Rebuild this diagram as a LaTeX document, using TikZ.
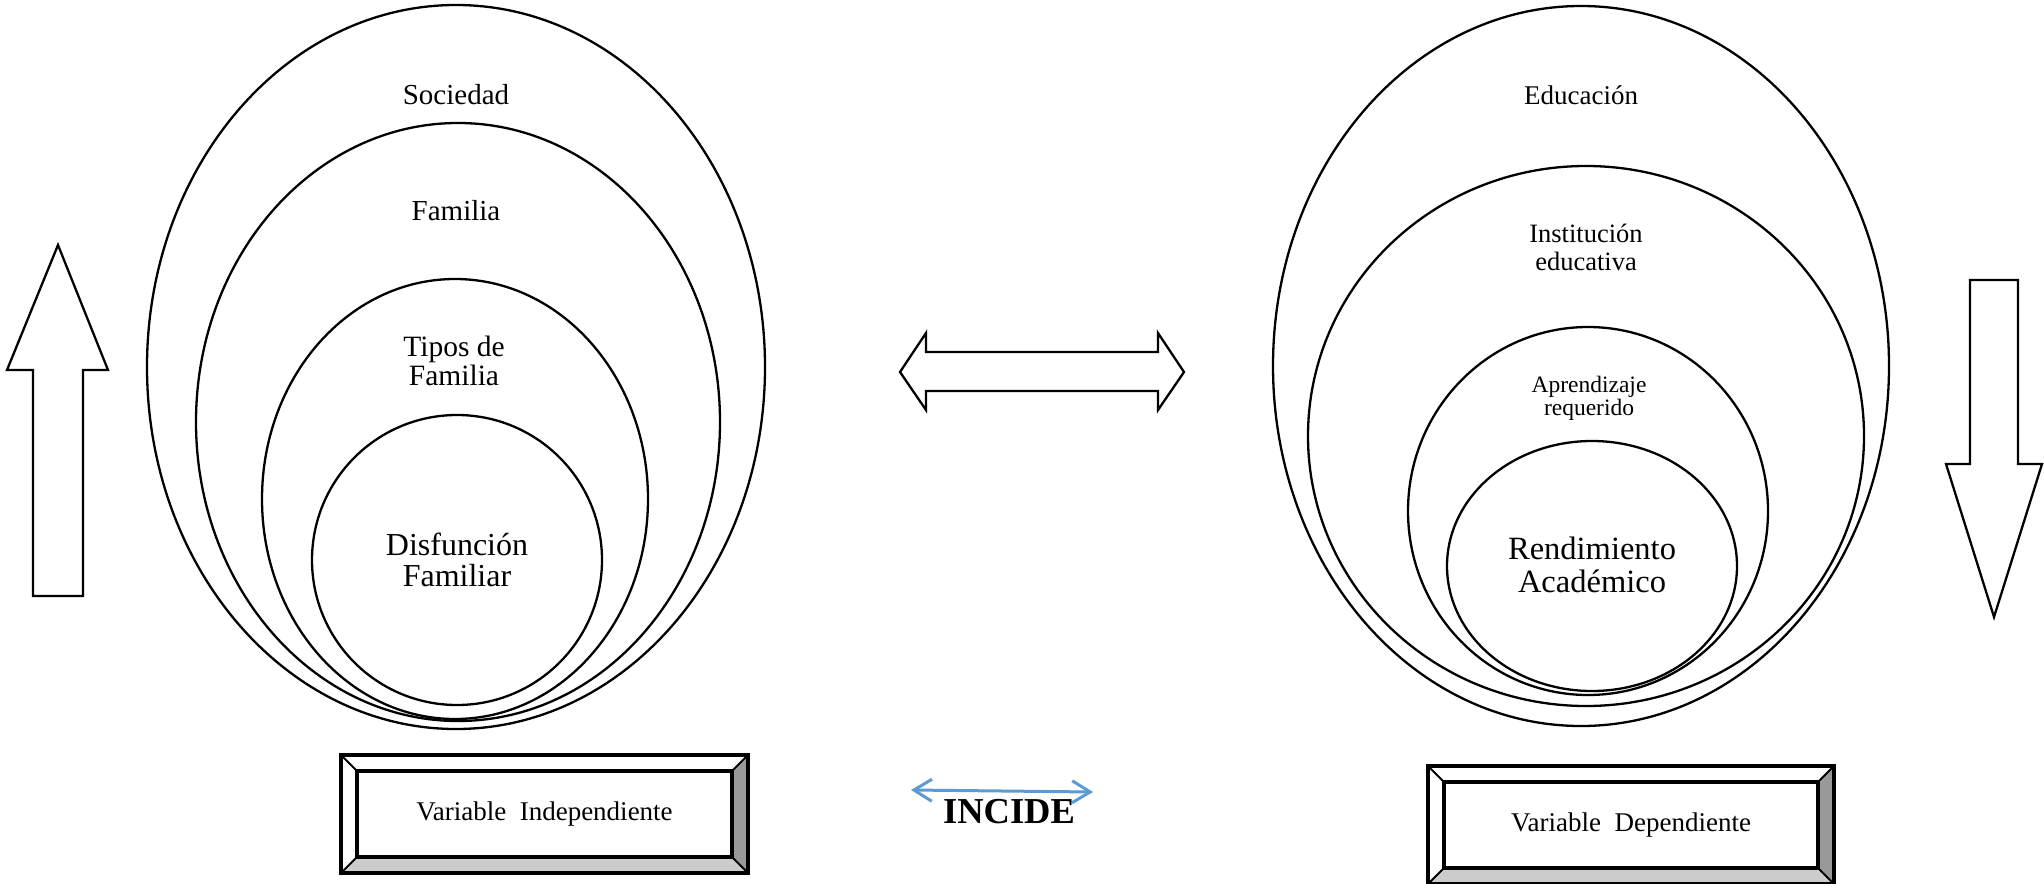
\documentclass[tikz,border=0pt]{standalone}
\usepackage{fontspec}
\setmainfont{Liberation Serif}
\usetikzlibrary{arrows.meta}
\definecolor{incblue}{HTML}{5B9BD5}
\begin{document}
\begin{tikzpicture}[x=1pt,y=-1pt,line width=2.3pt,line join=miter,
  lbl/.style={align=center,inner sep=0pt,font=\fontsize{29}{29}\selectfont},
  big/.style={align=center,inner sep=0pt,font=\fontsize{32}{32}\selectfont},
  varbox/.style={inner sep=0pt,outer sep=0pt,minimum width=375pt,minimum height=86pt,font=\fontsize{27}{28}\selectfont},
  frame/.style={line width=4pt},
  bevel/.style={line width=2pt}]
\useasboundingbox (0,0) rectangle (2044,883);
% left: independent variable
\draw (456,367) ellipse [x radius=309pt, y radius=362pt];
\draw (458,422) ellipse [x radius=262pt, y radius=299pt];
\draw (455,499) ellipse [x radius=193pt, y radius=220pt];
\draw (457,560) circle [radius=145pt];
\node[lbl,anchor=base] (soc) at (456,104) {Sociedad};
\node[lbl,anchor=base] (fam) at (456,220) {Familia};
\node[lbl,font=\fontsize{29.5}{29}\selectfont] (tip) at (454,361) {Tipos de\\Familia};
\node[big,font=\fontsize{32}{31}\selectfont] (dis) at (457,560) {Disfunción\\Familiar};
% right: dependent variable
\draw (1581,366) ellipse [x radius=308pt, y radius=360pt];
\draw (1586,436) ellipse [x radius=278pt, y radius=270pt];
\draw (1588,511) ellipse [x radius=180pt, y radius=184pt];
\draw (1592,566) ellipse [x radius=145pt, y radius=125pt];
\node[lbl,anchor=base,font=\fontsize{27}{28}\selectfont] (edu) at (1581,104) {Educación};
\node[lbl,font=\fontsize{26.5}{28}\selectfont] (ins) at (1586,247) {Institución\\educativa};
\node[lbl,font=\fontsize{23.5}{23.3}\selectfont] (apr) at (1589,398) {Aprendizaje\\requerido};
\node[big,font=\fontsize{32.5}{33}\selectfont] (ren) at (1592,565) {Rendimiento\\Académico};
% block arrows
\draw (58,245) -- (108,370) -- (83,370) -- (83,596) -- (33,596) -- (33,370) -- (7,370) -- cycle;
\draw (1970,280) -- (2018,280) -- (2018,464) -- (2042,464) -- (1994,617) -- (1946,464) -- (1970,464) -- cycle;
\draw (900,372) -- (926,333) -- (926,352) -- (1158,352) -- (1158,333) -- (1184,372)
  -- (1158,410) -- (1158,391) -- (926,391) -- (926,410) -- cycle;
% variable boxes
\node[varbox] (vi) at (544.5,814) {Variable~~Independiente};
\node[varbox,minimum width=374pt] (vd) at (1631,825) {Variable~~Dependiente};
\foreach \b in {vi,vd}{
  \fill[black!40] (\b.north east) -- ([shift={(16,-16)}]\b.north east) -- ([shift={(16,16)}]\b.south east) -- (\b.south east) -- cycle;
  \fill[black!20] (\b.south west) -- (\b.south east) -- ([shift={(16,16)}]\b.south east) -- ([shift={(-16,16)}]\b.south west) -- cycle;
  \draw[bevel] (\b.north west) -- ([shift={(-16,-16)}]\b.north west);
  \draw[bevel] (\b.north east) -- ([shift={(16,-16)}]\b.north east);
  \draw[bevel] (\b.south west) -- ([shift={(-16,16)}]\b.south west);
  \draw[bevel] (\b.south east) -- ([shift={(16,16)}]\b.south east);
  \draw[frame] (\b.north west) rectangle (\b.south east);
  \draw[frame] ([shift={(-16,-16)}]\b.north west) rectangle ([shift={(16,16)}]\b.south east);
}
% incide
\coordinate (incl) at (911,790);
\coordinate (incr) at (1093,792);
\draw[incblue,line width=3pt,{Straight Barb[length=18pt,width=22pt]}-{Straight Barb[length=18pt,width=22pt]}] (incl) -- (incr);
\node[anchor=base,inner sep=0pt,font=\bfseries\fontsize{36.5}{38}\selectfont] (inc) at (1009,823) {INCIDE};
\end{tikzpicture}
\end{document}
